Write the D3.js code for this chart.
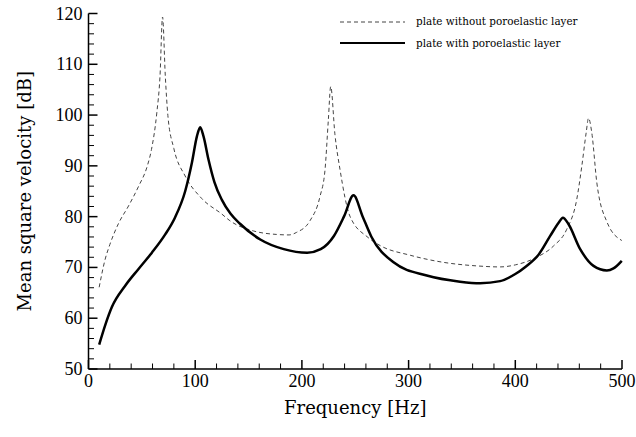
<!DOCTYPE html>
<html><head><meta charset="utf-8">
<script src="https://cdn.jsdelivr.net/npm/d3@7"></script>
<style>body{margin:0;background:#fff}</style>
</head><body>
<svg id="c" width="636" height="437"></svg>
<script>
const xTicks = [0,100,200,300,400,500];
const yTicks = [50,60,70,80,90,100,110,120];
const seriesNames = ["plate without poroelastic layer","plate with poroelastic layer"];

const freqWithout = [10,15.6,20,28,37.5,47,55,59,64,67,69.4,72,74.4,80,90.6,106,125,132.5,154.4,176,188,195,207.6,217,221.7,224.8,227,231,235.7,245,262,273.4,301.5,332.7,364,385.8,400,420,435.7,448.2,457.6,462.3,466.4,468.6,471.7,476.4,485.8,499.8];
const valWithout  = [66.1,71.6,74.5,78.6,82.1,86,89.9,93.2,100.4,107.6,119.3,107.6,99.9,93.4,88,83.6,80.5,79.2,77.2,76.5,76.4,76.9,79.2,84,89.3,99.1,105.6,96.1,89.3,80.1,75.9,74.3,72.4,71,70.3,70.1,70.5,72,74.2,77.5,83.4,89.9,96.5,99.4,96.5,86.7,79,75.3];

const freqWith = [10,15.6,21.9,34.4,46.9,59.4,71.9,81,90.6,96.9,101.6,104.7,107.8,112.5,118,125,133,142,161,183,205,217.6,230,239.6,248.4,256.8,265,285.9,317,348.2,367,385.8,400,410,421.8,432.7,440.6,444.6,449.9,460.8,473.3,485.8,492,499.8];
const valWith  = [54.8,58.6,62.2,66.4,69.7,72.9,76.5,79.8,85,90.6,95.8,97.6,95.8,91.2,86.8,83.3,80.6,78.6,75.5,73.6,72.9,73.6,76.2,80.1,84.2,80.1,76.1,71,68.4,67.2,66.9,67.3,68.7,70.2,72.5,76.2,78.8,79.8,78.5,73.6,70.3,69.4,69.8,71.3];

const svg = d3.select("#c");
const L = 88.5, R = 622, T = 13.5, B = 369;
const x = d3.scaleLinear().domain([0,500]).range([L,R]);
const y = d3.scaleLinear().domain([50,120]).range([B,T]);

const g = svg.append("g");
g.append("line").attr("x1",L).attr("x2",R).attr("y1",B).attr("y2",B).attr("stroke","#000").attr("stroke-width",1.5);
g.append("line").attr("x1",L).attr("x2",L).attr("y1",B).attr("y2",T).attr("stroke","#000").attr("stroke-width",1.5);

const xMinor = d3.range(0,501,20);
g.selectAll(".xm").data(xMinor).join("line")
  .attr("x1",d=>x(d)).attr("x2",d=>x(d))
  .attr("y1",B).attr("y2",d=> d%100===0 ? B-9 : B-5.5)
  .attr("stroke","#000").attr("stroke-width",d=>d%100===0?1.5:1);
const yMinor = d3.range(50,121,2);
g.selectAll(".ym").data(yMinor).join("line")
  .attr("y1",d=>y(d)).attr("y2",d=>y(d))
  .attr("x1",L).attr("x2",d=> d%10===0 ? L+9 : L+5.5)
  .attr("stroke","#000").attr("stroke-width",d=>d%10===0?1.5:1);

const tf = "'Liberation Serif', 'Times New Roman', serif";
g.selectAll(".xl").data(xTicks).join("text")
  .attr("x",d=>x(d)).attr("y",B+18).attr("text-anchor","middle")
  .attr("font-family",tf).attr("font-size",18).text(d=>d);
g.selectAll(".yl").data(yTicks).join("text")
  .attr("x",L-6).attr("y",d=>y(d)+6).attr("text-anchor","end")
  .attr("font-family",tf).attr("font-size",18).text(d=>d);

const lf = "'DejaVu Serif', serif";
svg.append("text").attr("x",(L+R)/2).attr("y",414).attr("text-anchor","middle")
  .attr("font-family",lf).attr("font-size",18).text("Frequency [Hz]");
svg.append("text").attr("transform",`translate(31,${(T+B)/2}) rotate(-90)`).attr("text-anchor","middle")
  .attr("font-family",lf).attr("font-size",18).text("Mean square velocity [dB]");

const line = d3.line().x(d=>x(d[0])).y(d=>y(d[1])).curve(d3.curveMonotoneX);
svg.append("path").datum(freqWithout.map((f,i)=>[f,valWithout[i]]))
  .attr("d",line).attr("fill","none").attr("stroke","#444").attr("stroke-width",1).attr("stroke-dasharray","4,3");
svg.append("path").datum(freqWith.map((f,i)=>[f,valWith[i]]))
  .attr("d",line).attr("fill","none").attr("stroke","#000").attr("stroke-width",2.5);

const leg = svg.append("g");
leg.append("line").attr("x1",340).attr("x2",405).attr("y1",22).attr("y2",22).attr("stroke","#444").attr("stroke-width",1).attr("stroke-dasharray","4,3");
leg.append("line").attr("x1",340).attr("x2",405).attr("y1",43).attr("y2",43).attr("stroke","#000").attr("stroke-width",2);
leg.append("text").attr("x",416).attr("y",25).attr("font-family",lf).attr("font-size",10.4).text(seriesNames[0]);
leg.append("text").attr("x",416).attr("y",47).attr("font-family",lf).attr("font-size",10.4).text(seriesNames[1]);
</script>
</body></html>
